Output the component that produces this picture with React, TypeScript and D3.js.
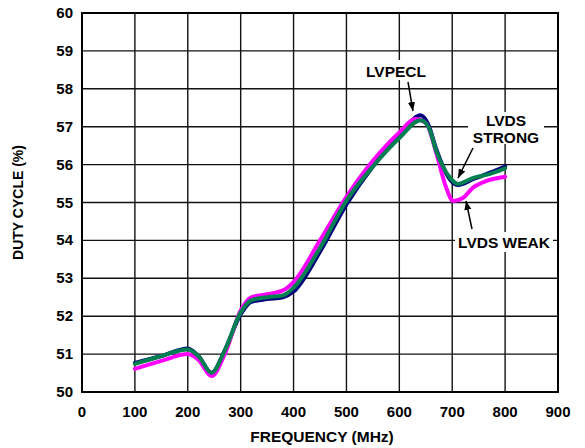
import React from 'react';
import * as d3 from 'd3';

// frequency (MHz) and duty cycle (%)
const navyFreq = [100, 150, 200, 220, 245, 270, 300, 320, 350, 380, 400, 450, 500, 550, 600, 640, 655, 670, 696, 711, 740, 770, 800];
const navyDuty = [50.77, 50.95, 51.15, 50.95, 50.5, 51.1, 52.05, 52.38, 52.45, 52.5, 52.65, 53.7, 54.95, 55.95, 56.75, 57.3, 57.05, 56.4, 55.6, 55.46, 55.62, 55.78, 55.95];

const greenFreq = [100, 150, 200, 220, 245, 270, 300, 320, 350, 380, 400, 450, 500, 550, 600, 640, 655, 670, 696, 711, 740, 770, 800];
const greenDuty = [50.74, 50.95, 51.12, 50.95, 50.51, 51.1, 52.1, 52.42, 52.5, 52.55, 52.75, 53.8, 55.05, 55.95, 56.7, 57.17, 57.0, 56.35, 55.65, 55.49, 55.65, 55.75, 55.9];

const magentaFreq = [100, 150, 200, 220, 245, 270, 300, 320, 350, 380, 400, 450, 500, 550, 600, 630, 650, 670, 686, 702, 720, 740, 765, 800];
const magentaDuty = [50.61, 50.82, 51.0, 50.85, 50.42, 51.0, 52.15, 52.5, 52.58, 52.68, 52.9, 54.0, 55.15, 56.1, 56.85, 57.2, 57.1, 56.3, 55.5, 55.04, 55.12, 55.4, 55.57, 55.68];

const xTicks = [0, 100, 200, 300, 400, 500, 600, 700, 800, 900];
const yTicks = [50, 51, 52, 53, 54, 55, 56, 57, 58, 59, 60];

const font = 'Arial, "Liberation Sans", Helvetica, sans-serif';

const App: React.FC = () => {
  const width = 585;
  const height = 448;
  const left = 82, right = 558, top = 13, bottom = 392;

  const x = d3.scaleLinear().domain([0, 900]).range([left, right]);
  const y = d3.scaleLinear().domain([50, 60]).range([bottom, top]);

  const line = d3.line<[number, number]>()
    .x(d => x(d[0]))
    .y(d => y(d[1]))
    .curve(d3.curveMonotoneX);

  const series = [
    { f: navyFreq, v: navyDuty, color: '#00007f' },
    { f: magentaFreq, v: magentaDuty, color: '#ff00ff' },
    { f: greenFreq, v: greenDuty, color: '#007f50' },
  ];

  return (
    <svg width={width} height={height} style={{ position: 'absolute', left: 0, top: 0, background: '#fff' }}>
      <defs>
        <marker id="arr" viewBox="0 0 10 10" refX="10" refY="5" markerWidth="9" markerHeight="9" orient="auto" markerUnits="userSpaceOnUse">
          <path d="M0,1 L10,5 L0,9 Z" fill="#000" />
        </marker>
      </defs>

      {/* grid */}
      {xTicks.slice(1, -1).map(t => (
        <line key={'gx' + t} x1={x(t)} x2={x(t)} y1={top} y2={bottom} stroke="#111" strokeWidth={1.4} />
      ))}
      {yTicks.slice(1, -1).map(t => (
        <line key={'gy' + t} x1={left} x2={right} y1={y(t)} y2={y(t)} stroke="#111" strokeWidth={1.4} />
      ))}
      <rect x={left} y={top} width={right - left} height={bottom - top} fill="none" stroke="#000" strokeWidth={2} />

      {/* data */}
      {series.map((s, i) => (
        <path key={i} d={line(s.f.map((f, j) => [f, s.v[j]] as [number, number])) || ''}
          fill="none" stroke={s.color} strokeWidth={4} strokeLinejoin="round" strokeLinecap="round" />
      ))}

      {/* tick labels */}
      {yTicks.map(t => (
        <text key={'yl' + t} x={left - 9} y={y(t) + 5} textAnchor="end" fontFamily={font} fontWeight="bold" fontSize={15}>{t}</text>
      ))}
      {xTicks.map(t => (
        <text key={'xl' + t} x={x(t)} y={bottom + 25} textAnchor="middle" fontFamily={font} fontWeight="bold" fontSize={15}>{t}</text>
      ))}

      {/* axis titles */}
      <text x={(left + right) / 2 + 2} y={442} textAnchor="middle" fontFamily={font} fontWeight="bold" fontSize={15.5}>FREQUENCY (MHz)</text>
      <text transform={`translate(23,${(top + bottom) / 2}) rotate(-90)`} textAnchor="middle" fontFamily={font} fontWeight="bold" fontSize={14}>DUTY CYCLE (%)</text>

      {/* annotations */}
      <rect x={362} y={60} width={69} height={20} fill="#fff" />
      <text x={396} y={77} textAnchor="middle" fontFamily={font} fontWeight="bold" fontSize={15.5}>LVPECL</text>
      <line x1={408} y1={82} x2={413} y2={111} stroke="#000" strokeWidth={1.5} markerEnd="url(#arr)" />

      <rect x={468} y={112} width={76} height={32} fill="#fff" />
      <text x={506} y={126} textAnchor="middle" fontFamily={font} fontWeight="bold" fontSize={15.5}>LVDS</text>
      <text x={506} y={143} textAnchor="middle" fontFamily={font} fontWeight="bold" fontSize={15.5}>STRONG</text>
      <line x1={473} y1={148} x2={458} y2={178} stroke="#000" strokeWidth={1.5} markerEnd="url(#arr)" />

      <rect x={455} y={232} width={98} height={20} fill="#fff" />
      <text x={504} y={248} textAnchor="middle" fontFamily={font} fontWeight="bold" fontSize={15.5}>LVDS WEAK</text>
      <line x1={472} y1={229} x2={466} y2={201} stroke="#000" strokeWidth={1.5} markerEnd="url(#arr)" />
    </svg>
  );
};

export default App;
